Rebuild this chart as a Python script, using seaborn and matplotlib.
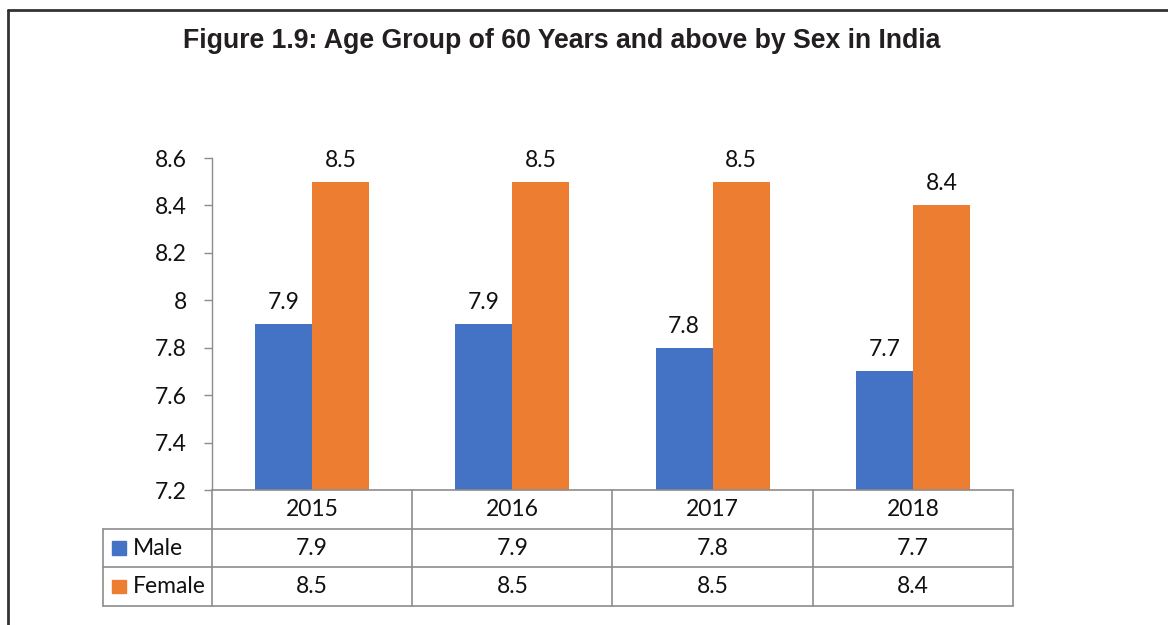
import pandas as pd
import seaborn as sns
import matplotlib.pyplot as plt
from matplotlib.lines import Line2D
from matplotlib.patches import Rectangle
from matplotlib.transforms import blended_transform_factory

# chart data
years = ["2015", "2016", "2017", "2018"]
male = [7.9, 7.9, 7.8, 7.7]
female = [8.5, 8.5, 8.5, 8.4]
series_names = ["Male", "Female"]
colors = ["#4472C4", "#ED7D31"]
y_ticks = [7.2, 7.4, 7.6, 7.8, 8.0, 8.2, 8.4, 8.6]
y_tick_labels = ["7.2", "7.4", "7.6", "7.8", "8", "8.2", "8.4", "8.6"]

df = pd.DataFrame({
    "Year": years * 2,
    "Sex": ["Male"] * len(years) + ["Female"] * len(years),
    "Value": male + female,
})

sns.set_style("white")
plt.rcParams["font.family"] = ["Lato", "DejaVu Sans"]
FS = 16.5

fig = plt.figure(figsize=(11.68, 6.25), dpi=100)
ax = fig.add_axes([0.1815, 0.216, 0.6858, 0.5312])

sns.barplot(data=df, x="Year", y="Value", hue="Sex", hue_order=series_names,
            palette=colors, width=0.57, gap=0, saturation=1, legend=False,
            linewidth=0, ax=ax)

for cont in ax.containers:
    ax.bar_label(cont, fmt="%.1f", padding=8, fontsize=FS, color="#111111")

ax.set_ylim(7.2, 8.6)
ax.set_xlim(-0.5, 3.5)
ax.set_yticks(y_ticks)
ax.set_yticklabels(y_tick_labels, fontsize=FS, color="#111111")
ax.set_xticks([])
ax.set_xlabel("")
ax.set_ylabel("")
ax.tick_params(axis="y", direction="out", length=6, width=1, color="#8c8c8c",
               pad=12, left=True)
for s in ["top", "right", "bottom"]:
    ax.spines[s].set_visible(False)
ax.spines["left"].set_color("#8c8c8c")
ax.spines["left"].set_linewidth(1)

# data table under the chart
grid = "#8c8c8c"
trans = blended_transform_factory(ax.transData, ax.transAxes)
row_h = 0.1166
label_left = -0.5 - 109 / 200
rows = [male, female]

# horizontal lines
ax.add_line(Line2D([-0.5, 3.5], [0, 0], transform=trans, color=grid, lw=1.2, clip_on=False))
for r in range(1, 4):
    ax.add_line(Line2D([label_left, 3.5], [-r * row_h, -r * row_h], transform=trans,
                       color=grid, lw=1.2, clip_on=False))
# vertical lines
for i in range(5):
    ax.add_line(Line2D([i - 0.5, i - 0.5], [0, -3 * row_h], transform=trans,
                       color=grid, lw=1.2, clip_on=False))
ax.add_line(Line2D([label_left, label_left], [-row_h, -3 * row_h], transform=trans,
                   color=grid, lw=1.2, clip_on=False))

for i, yr in enumerate(years):
    ax.text(i, -0.5 * row_h, yr, transform=trans, ha="center", va="center",
            fontsize=FS, color="#111111")
for r, (name, vals, col) in enumerate(zip(series_names, rows, colors)):
    yc = -(r + 1.5) * row_h
    for i, v in enumerate(vals):
        ax.text(i, yc, f"{v:.1f}", transform=trans, ha="center", va="center",
                fontsize=FS, color="#111111")
    ax.add_patch(Rectangle((label_left + 0.045, yc - 0.02), 0.07, 0.04,
                           transform=trans, color=col, clip_on=False))
    ax.text(label_left + 0.15, yc, name, transform=trans, ha="left", va="center",
            fontsize=FS, color="#111111")

# title
fig.text(0.481, 0.934, "Figure 1.9: Age Group of 60 Years and above by Sex in India",
         ha="center", va="center", fontsize=19.2, fontweight="bold",
         family="Liberation Sans", color="#231f20")

# outer frame (top and left edges visible)
fig.add_artist(Line2D([8 / 1168, 1], [1 - 10 / 625, 1 - 10 / 625],
                      transform=fig.transFigure, color="#333333", lw=2))
fig.add_artist(Line2D([8 / 1168, 8 / 1168], [0, 1 - 10 / 625],
                      transform=fig.transFigure, color="#333333", lw=2))

fig.savefig("out.png", dpi=100)
